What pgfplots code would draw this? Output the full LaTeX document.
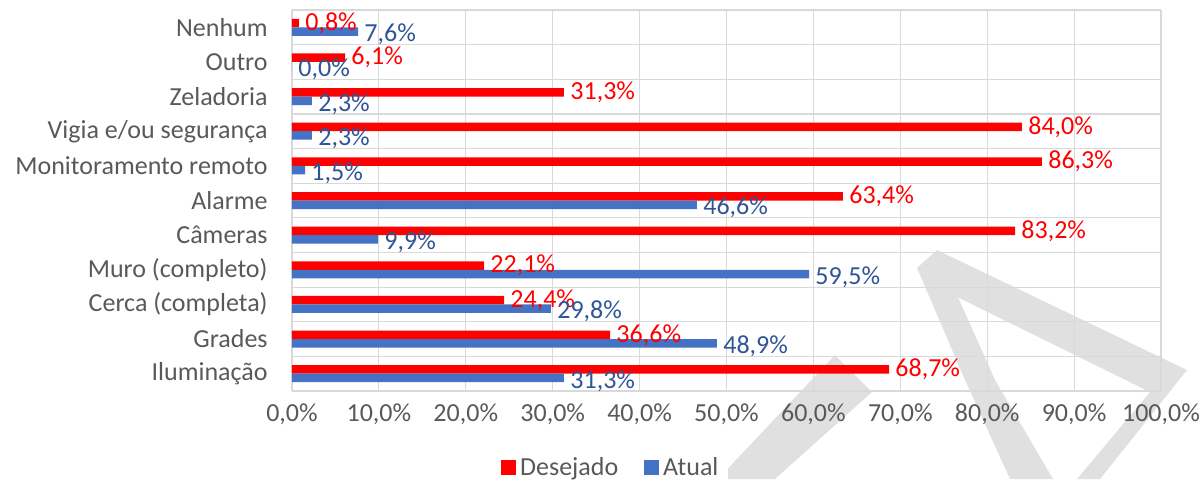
\documentclass[border=0pt]{standalone}
\usepackage{pgfplots}
\pgfplotsset{compat=1.18}
\usepackage{fontspec}
\setmainfont{Carlito}
\definecolor{cred}{HTML}{FF0000}
\definecolor{cblue}{HTML}{4472C4}
\definecolor{cbluetxt}{HTML}{2F5597}
\definecolor{ctxt}{HTML}{595959}
\definecolor{cgrid}{HTML}{D9D9D9}
\definecolor{cwm}{HTML}{E0E0E0}
\newcommand{\fs}{\fontsize{13}{15.6}\selectfont}

\begin{document}
\begin{tikzpicture}
% watermark (background), coordinates in reference pixels
\begin{scope}[xshift=-146pt, yshift=195.5pt, x=0.5pt, y=-0.5pt]
\fill[cwm] (917,268) -- (965,380) -- (1010,479) -- (1053,479) -- (995,380) -- (937,250) -- cycle;
\fill[cwm] (937,250) -- (1187,370) -- (1100,479) -- (1077,479) -- (1150,392) -- (947,292) -- cycle;
\fill[cwm] (835,355) -- (872,392) -- (775,479) -- (718,479) -- cycle;
\end{scope}
\begin{axis}[
  scale only axis, width=434.5pt, height=190.5pt,
  xbar, bar width=4.25pt,
  xmin=0, xmax=100, ymin=-0.5, ymax=10.5,
  xtick={0,10,...,100},
  xticklabel={\pgfmathprintnumber[fixed,fixed zerofill,precision=1,use comma]{\tick}\%},
  ytick={0,...,10},
  yticklabels={Iluminação, Grades, Cerca (completa), Muro (completo), Câmeras, Alarme, Monitoramento remoto, Vigia e/ou segurança, Zeladoria, Outro, Nenhum},
  minor ytick={-0.5,0.5,...,10.5},
  xmajorgrids, yminorgrids, ymajorgrids=false,
  grid style={cgrid, line width=0.6pt},
  minor grid style={cgrid, line width=0.6pt},
  axis line style={draw=none},
  tick style={draw=none},
  major tick length=0pt, minor tick length=0pt,
  tick label style={font=\fs, text=ctxt},
  yticklabel style={inner sep=0pt, xshift=-12pt, anchor=east},
  xticklabel style={inner sep=0pt, yshift=-6pt, anchor=north},
  /pgf/number format/assume math mode=true,
  clip=false,
  nodes near coords={\pgfmathprintnumber[fixed,fixed zerofill,precision=1,use comma]{\pgfplotspointmeta}\%},
  nodes near coords style={anchor=west, inner sep=3pt, font=\fs},
  legend style={draw=none, at={(0.368,-0.202)}, anchor=center, legend columns=2, font=\fs, text=ctxt,
    /tikz/every even column/.append style={column sep=11pt}},
  legend image code/.code={\fill[#1] (0pt,-3.75pt) rectangle (7.5pt,3.75pt);},
]
\addplot[fill=cred, draw=none, bar shift=2.125pt, every node near coord/.append style={text=cred}] coordinates {
 (68.7,0) (36.6,1) (24.4,2) (22.1,3) (83.2,4) (63.4,5) (86.3,6) (84.0,7) (31.3,8) (6.1,9) (0.8,10)
};
\addplot[fill=cblue, draw=none, bar shift=-2.125pt, every node near coord/.append style={text=cbluetxt, yshift=-1.5pt}] coordinates {
 (31.3,0) (48.9,1) (29.8,2) (59.5,3) (9.9,4) (46.6,5) (1.5,6) (2.3,7) (2.3,8) (0.0,9) (7.6,10)
};
\legend{Desejado, Atual}
\end{axis}
\pgfresetboundingbox
\path (-146pt,-44pt) rectangle (455.5pt,195.5pt);
\end{tikzpicture}
\end{document}
